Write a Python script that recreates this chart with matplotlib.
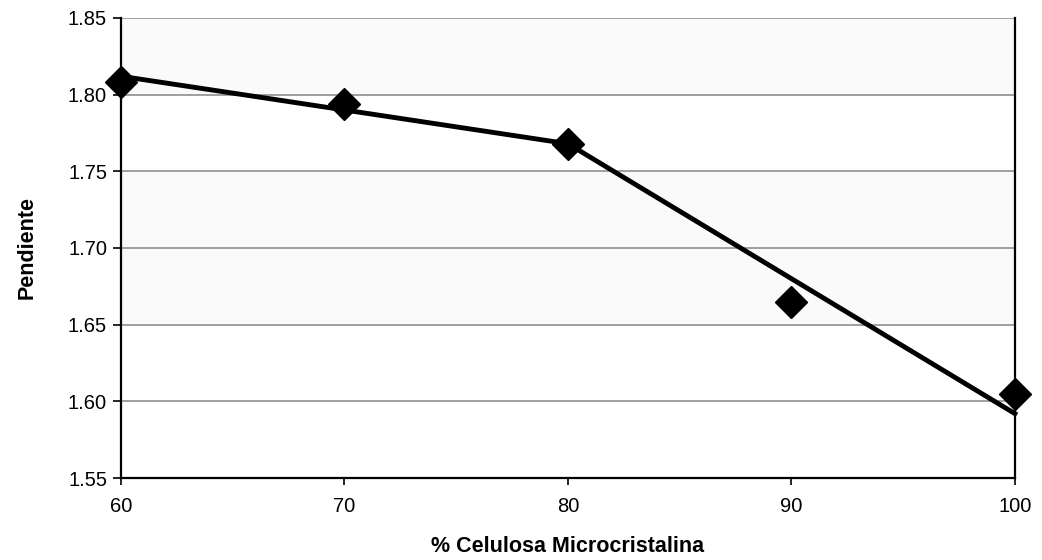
import matplotlib
matplotlib.use("Agg")
import matplotlib.pyplot as plt

# datos medidos
celulosa = [60, 70, 80, 90, 100]
pendiente = [1.808, 1.794, 1.768, 1.665, 1.605]

# rectas de ajuste por tramos
ajuste_x = [60, 80, 100]
ajuste_y = [1.812, 1.768, 1.592]

yticks = [1.55, 1.60, 1.65, 1.70, 1.75, 1.80, 1.85]
xticks = [60, 70, 80, 90, 100]

plt.rcParams['font.family'] = ['Liberation Sans', 'DejaVu Sans']

fig = plt.figure(figsize=(10.42, 5.6), dpi=100)
ax = fig.add_axes([0.1161, 0.1464, 0.8579, 0.8215])

# franjas de fondo muy claras
for lo, hi in [(1.80, 1.85), (1.65, 1.75)]:
    ax.axhspan(lo, hi, color='#fafafa', zorder=0)

for v in yticks[1:]:
    ax.axhline(v, color='#909090', lw=1.2, zorder=1)

ax.plot(ajuste_x, ajuste_y, color='black', lw=3.5, zorder=3, clip_on=False)
ax.plot(celulosa, pendiente, 'D', color='black', markersize=16, zorder=4,
        clip_on=False)

ax.set_xlim(60, 100)
ax.set_ylim(1.55, 1.85)
ax.set_xticks(xticks)
ax.set_yticks(yticks)
ax.set_yticklabels([f'{v:.2f}' for v in yticks])

ax.spines['top'].set_visible(False)
for s in ['left', 'right', 'bottom']:
    ax.spines[s].set_color('black')
    ax.spines[s].set_linewidth(1.6)

ax.tick_params(axis='y', direction='out', length=6, width=1.2, labelsize=14.5, pad=4)
ax.tick_params(axis='x', direction='out', length=5, width=1.2, labelsize=14.5, pad=9)

ax.set_xlabel('% Celulosa Microcristalina', fontsize=15.5, fontweight='bold', labelpad=14)
ax.set_ylabel('Pendiente', fontsize=15.5, fontweight='bold', labelpad=22)

fig.savefig('out.png', dpi=100)
